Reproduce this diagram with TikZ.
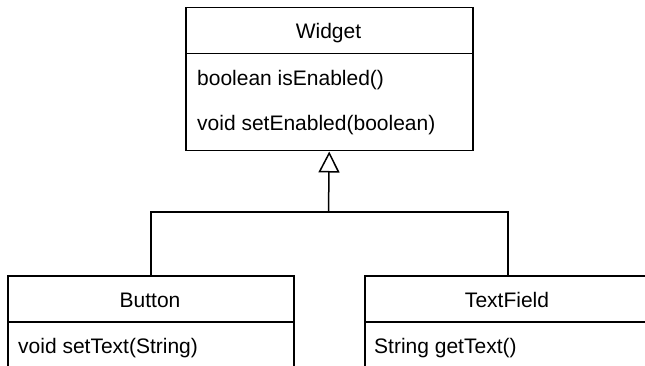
\documentclass[tikz,border=0pt]{standalone}
\usepackage{fontspec}
\setmainfont{Liberation Sans}
\usetikzlibrary{arrows.meta}
\begin{document}
\begin{tikzpicture}[x=1pt,y=-1pt,
  box/.style={draw=black, line width=1.5pt, fill=white, rectangle, inner sep=0pt, anchor=north west, minimum width=#1},
  txt/.style={inner sep=0pt, font=\fontsize{21}{25}\selectfont},
  ttl/.style={txt, anchor=base},
  mem/.style={txt, anchor=base west},
  link/.style={draw=black, line width=1.5pt},
  gen/.style={link, -{Triangle[open, length=21pt, width=21pt, line width=1.5pt]}}]
\clip (0,0) rectangle (645,366);
\fill[white] (0,0) rectangle (645,366);
% Widget
\node[box=287pt, minimum height=46pt] (wh) at (185,7) {};
\node[box=287pt, minimum height=97pt] (wb) at (185,53) {};
\node[ttl] (wt) at (328.5,39) {Widget};
\node[mem] (wm1) at (197,86) {boolean isEnabled()};
\node[mem] (wm2) at (197,131) {void setEnabled(boolean)};
% Button
\node[box=286pt, minimum height=46pt] (bh) at (7,275) {};
\node[box=286pt, minimum height=80pt] (bb) at (7,321) {};
\node[ttl] (bt) at (150,307) {Button};
\node[mem] (bm1) at (18,353) {void setText(String)};
% TextField
\node[box=286pt, minimum height=46pt] (th) at (364,275) {};
\node[box=286pt, minimum height=80pt] (tb) at (364,321) {};
\node[ttl] (tt) at (507,307) {TextField};
\node[mem] (tm1) at (374,353) {String getText()};
% connectors
\coordinate (mid) at (328.5,212);
\draw[link] (bh.north) |- (mid) -| (th.north);
\draw[gen] (mid) -- (wb.south);
\end{tikzpicture}
\end{document}
